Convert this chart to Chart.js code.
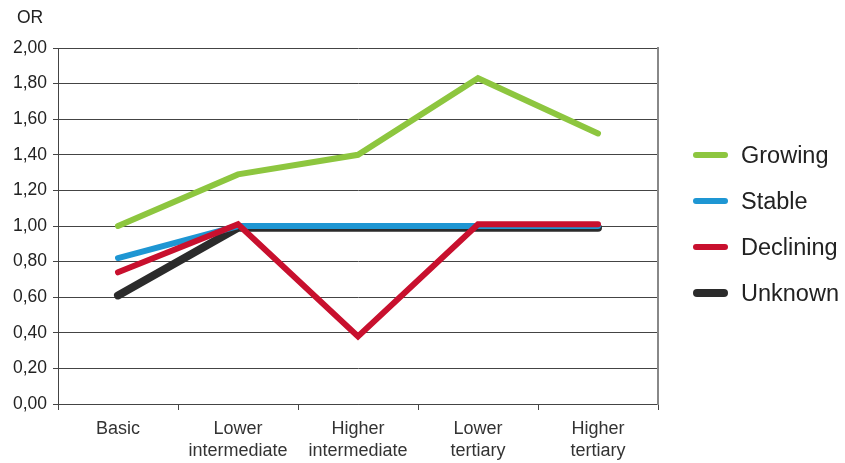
<!DOCTYPE html>
<html>
<head>
<meta charset="utf-8">
<script src="https://cdn.jsdelivr.net/npm/chart.js@4.4.1/dist/chart.umd.min.js"></script>
<style>
  html, body { margin: 0; padding: 0; background: #fff; }
  #wrap { position: relative; width: 845px; height: 463px; font-family: 'Liberation Sans', Arial, sans-serif; }
  #axisTitle { position: absolute; left: 17px; top: 7px; font-size: 17.5px; color: #222; }
  #legend { position: absolute; left: 693px; top: 132px; }
  .item { display: flex; align-items: center; height: 46px; font-size: 23.5px; color: #222; }
  .swatch { width: 35px; border-radius: 4px; margin-right: 13px; }
</style>
</head>
<body>
<div id="wrap">
  <canvas id="chart" width="845" height="463"></canvas>
  <div id="axisTitle">OR</div>
  <div id="legend"></div>
</div>
<script>
// Categories and OR values per labour market trend
const categories = [['Basic'], ['Lower', 'intermediate'], ['Higher', 'intermediate'], ['Lower', 'tertiary'], ['Higher', 'tertiary']];
const growing = [1.00, 1.29, 1.40, 1.83, 1.52];
const stable = [0.82, 1.00, 1.00, 1.00, 1.00];
const declining = [0.74, 1.01, 0.38, 1.01, 1.01];
const unknown = [0.61, 0.99, 0.99, 0.99, 0.99];
const seriesNames = ['Growing', 'Stable', 'Declining', 'Unknown'];
const seriesColors = ['#8dc63f', '#1e96d3', '#c8102e', '#2b2b2b'];
const seriesWidths = [6, 6, 6, 8];
// lower order = drawn on top
const seriesOrder = [1, 2, 0, 3];

const allSeries = [growing, stable, declining, unknown];

const datasets = allSeries.map((vals, i) => ({
  label: seriesNames[i],
  data: vals,
  borderColor: seriesColors[i],
  backgroundColor: seriesColors[i],
  borderWidth: seriesWidths[i],
  borderCapStyle: 'round',
  pointRadius: 0,
  tension: 0,
  order: seriesOrder[i]
}));

// legend
const legendEl = document.getElementById('legend');
seriesNames.forEach((name, i) => {
  const row = document.createElement('div');
  row.className = 'item';
  row.innerHTML = '<span class="swatch" style="height:' + seriesWidths[i] + 'px;background:' + seriesColors[i] + '"></span>' + name;
  legendEl.appendChild(row);
});

new Chart(document.getElementById('chart'), {
  type: 'line',
  data: { labels: categories, datasets: datasets },
  options: {
    responsive: false,
    animation: false,
    layout: { padding: { left: 0, top: 48, right: 187, bottom: 0 } },
    plugins: { legend: { display: false }, tooltip: { enabled: false } },
    scales: {
      x: {
        offset: true,
        grid: { display: true, drawOnChartArea: false, offset: true, color: '#444', tickLength: 6 },
        border: { color: '#444', width: 1 },
        ticks: { color: '#333', font: { family: 'Liberation Sans', size: 18, lineHeight: 1.17 }, padding: 9, maxRotation: 0 },
        afterFit: s => { s.height = 59; }
      },
      y: {
        min: 0,
        max: 2,
        grid: { color: '#444', lineWidth: 1, tickLength: 5 },
        border: { color: '#444', width: 1 },
        ticks: {
          stepSize: 0.2,
          color: '#222',
          padding: 6,
          font: { family: 'Liberation Sans', size: 17.5 },
          callback: v => v.toFixed(2).replace('.', ',')
        },
        afterFit: s => { s.width = 58; }
      },
      yRight: {
        position: 'right',
        min: 0,
        max: 2,
        grid: { display: false },
        ticks: { display: false },
        border: { color: '#888', width: 2 },
        afterFit: s => { s.width = 0; }
      }
    }
  }
});
</script>
</body>
</html>
